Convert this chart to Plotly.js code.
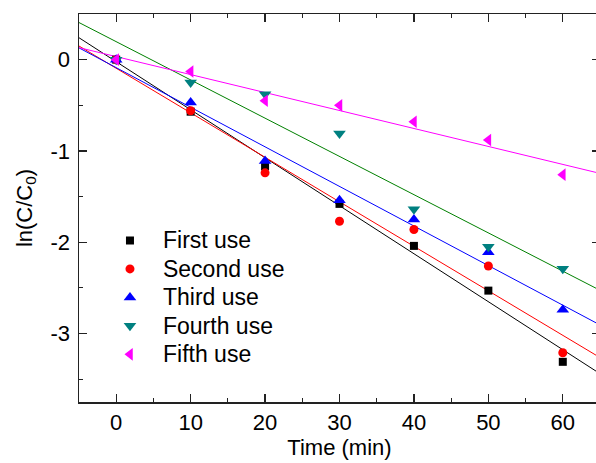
<!DOCTYPE html>
<html>
<head>
<meta charset="utf-8">
<script src="https://cdn.plot.ly/plotly-3.0.1.min.js"></script>
<style>html,body{margin:0;padding:0;overflow:hidden;background:#fff;}#chart{width:600px;height:463px;}</style>
</head>
<body>
<div id="chart"></div>
<script>
const time = [0, 10, 20, 30, 40, 50, 60];
const firstUse  = [0, -0.57, -1.17, -1.58, -2.04, -2.53, -3.31];
const secondUse = [0, -0.56, -1.24, -1.77, -1.86, -2.26, -3.21];
const thirdUse  = [0, -0.47, -1.11, -1.54, -1.75, -2.11, -2.74];
const fourthUse = [0, -0.25, -0.38, -0.81, -1.64, -2.05, -2.29];
const fifthUse  = [0, -0.13, -0.45, -0.50, -0.68, -0.88, -1.26];
const seriesNames = ['First use', 'Second use', 'Third use', 'Fourth use', 'Fifth use'];
const yTickVals = [0, -1, -2, -3];
const yTickText = ['0', '-1', '-2', '-3'];
const xRange = [-5, 65];
const yRange = [-3.75, 0.5];

const allSeries = [firstUse, secondUse, thirdUse, fourthUse, fifthUse];
const markerColors = ['#000000', '#ff0000', '#0000ff', '#008080', '#ff00ff'];
const lineColors = ['#000000', '#ff0000', '#0000ff', '#008000', '#ff00ff'];
const symbols = ['square', 'circle', 'triangle-up', 'triangle-down', 'triangle-left'];
const sizes = [8, 9, 11, 11, 11];

function fit(x, y) {
  const n = x.length;
  const mx = x.reduce((a, b) => a + b, 0) / n;
  const my = y.reduce((a, b) => a + b, 0) / n;
  let sxy = 0, sxx = 0;
  for (let i = 0; i < n; i++) { sxy += (x[i] - mx) * (y[i] - my); sxx += (x[i] - mx) ** 2; }
  const b = sxy / sxx;
  return { slope: b, intercept: my - b * mx };
}

const traces = [];
allSeries.forEach((ys, i) => {
  const f = fit(time, ys);
  traces.push({
    x: xRange, y: xRange.map(v => f.intercept + f.slope * v),
    mode: 'lines', line: { color: lineColors[i], width: 1 },
    showlegend: false, hoverinfo: 'skip'
  });
});
allSeries.forEach((ys, i) => {
  traces.push({
    x: time, y: ys, name: '<span style="font-size:23px">' + seriesNames[i] + '</span>', mode: 'markers',
    marker: { symbol: symbols[i], size: sizes[i], color: markerColors[i] }
  });
});

const font = 'Liberation Sans, Arial, sans-serif';
const axisCommon = {
  showgrid: false, zeroline: false, showline: true, linecolor: '#222', linewidth: 1.5,
  mirror: 'ticks', ticks: 'inside', ticklen: 8, tickwidth: 1.2, tickcolor: '#222',
  tickfont: { family: font, size: 22, color: '#000' }
};
const layout = {
  width: 600, height: 463,
  margin: { l: 79, r: 0, t: 14, b: 61 },
  paper_bgcolor: '#fff', plot_bgcolor: '#fff',
  font: { family: font, color: '#000' },
  xaxis: Object.assign({}, axisCommon, {
    range: xRange, tickmode: 'linear', tick0: 0, dtick: 10,
    minor: { dtick: 5, tick0: 0, ticks: 'inside', ticklen: 4, tickcolor: '#222' },
    title: { text: 'Time (min)', font: { family: font, size: 22 }, standoff: 5 }
  }),
  yaxis: Object.assign({}, axisCommon, {
    range: yRange, tickmode: 'array', tickvals: yTickVals, ticktext: yTickText,
    minor: { dtick: 0.5, tick0: 0, ticks: 'inside', ticklen: 4, tickcolor: '#222' },
    ticklabelstandoff: 3,
    title: { text: 'ln(C/C<sub>0</sub>)', font: { family: font, size: 22 }, standoff: 12 }
  }),
  legend: {
    x: 0.0345, y: 0.466, xanchor: 'left', yanchor: 'top',
    bgcolor: 'rgba(0,0,0,0)', borderwidth: 0,
    font: { family: font, size: 19.6, color: '#000' },
    itemsizing: 'trace', itemwidth: 56
  },
  showlegend: true
};
Plotly.newPlot('chart', traces, layout, { displayModeBar: false, staticPlot: true });
</script>
</body>
</html>
